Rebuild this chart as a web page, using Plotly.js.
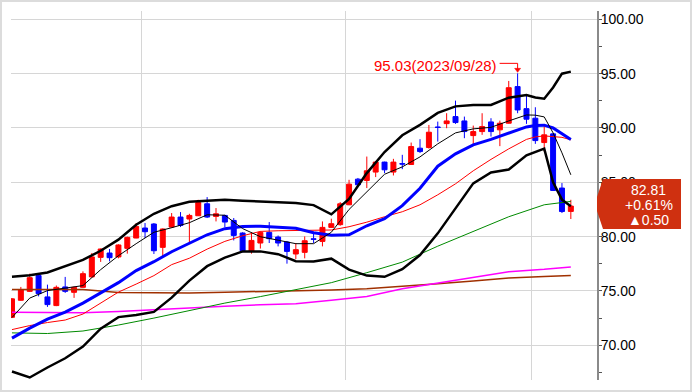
<!DOCTYPE html>
<html><head><meta charset="utf-8">
<script src="https://cdn.plot.ly/plotly-3.0.1.min.js"></script>
<style>
html,body{margin:0;padding:0;background:#fff}
#wrap{position:relative;width:692px;height:392px;overflow:hidden}
#chart{width:692px;height:392px}
#frame{position:absolute;left:0;top:0;width:692px;height:392px;border:2px solid #dcdcdc;box-sizing:border-box;pointer-events:none}
</style>
</head><body>
<div id="wrap"><div id="chart"></div><div id="frame"></div></div>
<script>
// ---- candle data (daily) ----
const open = [72.57,74.14,74.96,76.41,74.45,73.65,75.37,74.87,75.33,76.29,
78.09,78.49,78.13,78.92,79.87,80.79,81.16,79.01,80.88,81.80,
81.62,81.92,83.02,81.86,81.95,81.49,80.33,78.64,79.41,80.39,
79.96,79.50,78.40,78.55,79.80,79.56,80.85,81.10,82.93,85.29,
85.17,85.94,86.86,85.94,86.72,86.64,88.14,88.20,90.09,90.40,
91.05,90.65,89.30,89.67,90.56,89.83,90.44,93.81,91.78,90.90,
88.66,89.46,84.47,82.32];
const high = [74.35,75.37,76.59,76.45,75.58,75.50,76.29,75.40,76.80,78.49,
78.90,78.86,79.30,80.00,81.25,81.25,81.25,80.75,82.17,82.26,
82.10,83.39,83.64,82.63,82.00,81.71,80.40,80.42,80.50,81.34,
80.10,79.60,79.41,80.02,80.24,81.40,81.65,83.18,85.23,85.40,
87.37,86.95,86.90,87.16,87.53,88.66,88.97,90.28,90.59,91.36,
92.52,91.05,90.22,91.36,90.90,90.68,94.33,95.03,93.11,91.91,
90.20,89.50,84.93,83.39];
const low = [72.50,74.10,74.90,74.50,73.53,73.60,74.82,74.36,75.30,76.25,
77.67,77.72,78.00,78.43,79.85,79.87,78.40,78.18,80.79,80.88,
79.41,81.90,81.71,81.40,80.88,79.65,78.55,78.43,78.90,79.41,
79.10,77.51,77.94,78.00,79.41,79.10,80.80,81.00,82.90,84.70,
84.47,85.48,85.85,85.63,86.21,86.60,87.70,88.10,88.75,89.98,
90.38,89.06,88.51,89.37,89.21,88.33,90.40,91.36,90.38,88.54,
87.83,84.20,82.17,81.62];
const close = [74.27,75.12,76.22,74.75,73.74,75.33,74.96,75.33,76.59,78.13,
78.86,78.06,79.23,79.93,80.94,80.45,78.70,80.70,81.80,81.03,
81.95,83.14,81.80,82.10,81.34,80.11,78.70,79.65,80.39,79.81,
79.41,78.64,78.80,79.62,79.75,80.85,81.19,83.02,84.83,84.77,
86.06,86.86,86.15,86.86,86.68,88.29,87.83,89.61,90.05,90.65,
90.50,89.67,89.67,90.13,89.67,90.44,93.71,91.66,90.81,88.84,
89.37,84.25,82.31,82.81];
const peakDate = '2023/09/28';

// ---- indicator lines, read at these candle positions ----
const lineIdx = [0,2,4,6,8,10,12,14,16,18,20,22,24,26,28,30,32,34,36,38,40,42,44,46,48,50,52,54,56,58,59,60,61,62,63];
const bbUpper = [76.31,76.45,76.70,77.25,77.85,78.70,79.72,81.10,82.10,82.80,83.20,83.30,83.39,83.30,83.24,83.18,83.10,82.90,82.05,83.46,85.85,87.79,89.33,90.29,91.39,91.99,92.12,92.12,92.79,93.04,92.80,92.70,93.73,95.00,95.19];
const bbLower = [67.58,67.03,67.95,68.80,69.88,71.53,72.59,72.79,73.07,74.38,75.95,77.28,78.06,78.64,78.64,78.38,77.74,77.72,77.97,76.96,76.41,76.30,77.00,78.30,80.30,82.60,84.90,85.91,86.17,87.49,87.80,88.10,85.00,83.40,82.80];
const ma20 = [70.66,71.58,72.41,73.05,73.88,74.84,75.76,76.87,77.69,78.61,79.39,80.17,80.73,80.94,80.96,80.86,80.77,80.36,80.13,80.17,81.00,81.65,82.85,84.45,86.48,87.62,88.45,88.95,89.50,90.10,90.22,90.26,90.00,89.46,88.95];
const maRed = [71.44,71.81,72.09,72.32,72.87,73.88,74.89,75.63,76.41,77.42,78.01,78.85,79.56,80.08,80.48,80.54,80.57,80.59,80.61,80.91,81.33,81.83,82.29,82.93,83.85,84.86,86.06,87.11,88.08,88.95,89.18,89.27,89.23,89.14,88.91];
const ma5 = [72.55,74.34,75.03,75.26,75.49,76.96,78.24,79.35,80.40,80.82,81.28,82.01,81.97,80.74,79.99,79.67,79.35,79.35,80.40,82.50,84.10,85.74,86.42,87.34,88.54,89.55,89.92,90.06,90.65,91.20,91.18,91.02,89.55,87.71,85.69];
const slowIdx = [0,4,8,12,16,20,24,28,32,36,40,44,48,52,56,60,63];
const ma60 = [71.14,71.08,71.31,71.86,72.50,73.19,73.88,74.48,75.12,75.76,76.68,77.65,79.12,80.45,81.83,82.93,83.24];
const ma120 = [73.03,73.00,73.00,73.10,73.28,73.47,73.60,73.72,73.83,74.15,74.48,75.21,75.72,76.26,76.77,76.99,77.21];
const ma240 = [75.12,75.12,75.12,74.86,74.83,74.80,74.88,74.93,74.98,75.08,75.21,75.42,75.67,75.92,76.18,76.33,76.43];

// month boundaries (vertical grid) in candle-index units
const monthBreaks = [14.65, 37.55, 58.6];

const idx = open.map((_, i) => i);
function line(x, y, color, width) {
  return {type:'scatter', mode:'lines', x:x, y:y, line:{color:color, width:width}, hoverinfo:'skip', showlegend:false};
}
const traces = [
  {type:'candlestick', x:idx, open:open, high:high, low:low, close:close,
   increasing:{line:{color:'#ff0000', width:1}, fillcolor:'#ff0000'},
   decreasing:{line:{color:'#0000ff', width:1}, fillcolor:'#0000ff'},
   whiskerwidth:0, hoverinfo:'skip', showlegend:false},
  line(slowIdx, ma240, '#a03000', 1.5),
  line(slowIdx, ma120, '#ff00ff', 1.5),
  line(slowIdx, ma60, '#008a00', 1),
  line(lineIdx, maRed, '#ff0000', 1),
  line(lineIdx, ma20, '#0000ff', 3),
  line(lineIdx, bbUpper, '#000000', 2.5),
  line(lineIdx, bbLower, '#000000', 2.5),
  line(lineIdx, ma5, '#000000', 1)
];

// geometry helpers for the price tag (outside plot)
const M = {l:11, r:95, t:11, b:12};
const W = 692, H = 392;
const plotW = W - M.l - M.r;
const yRange = [66.8, 100.77];
const pxPerUnit = (H - M.t - M.b) / (yRange[1] - yRange[0]);
const px = p => (p - M.l) / plotW;

const n = close.length;
const lastClose = close[n-1], prevClose = close[n-2];
const chg = lastClose - prevClose;
const pct = chg / prevClose * 100;
const cy = lastClose + 0.19;
const hh = 25 / pxPerUnit, th = 7 / pxPerUnit;
const tagPath = `M ${px(603)},${cy+hh} L ${px(681)},${cy+hh} L ${px(681)},${cy-hh} L ${px(603)},${cy-hh} L ${px(597)},${cy-th} L ${px(597)},${cy+th} Z`;

let peakI = 0;
high.forEach((v, i) => { if (v > high[peakI]) peakI = i; });
const peakHigh = high[peakI];

const tagFont = {family:'Liberation Sans, Arial, sans-serif', size:14, color:'#ffffff'};
const layout = {
  width:W, height:H, margin:{l:M.l, r:M.r, t:M.t, b:M.b, pad:0},
  paper_bgcolor:'#ffffff', plot_bgcolor:'#ffffff', showlegend:false, boxgap:0.2,
  font:{family:'Liberation Sans, Arial, sans-serif', size:14, color:'#000'},
  xaxis:{range:[-0.11, 65.95], tickmode:'array', tickvals:monthBreaks, showticklabels:false, ticks:'',
         showgrid:true, gridcolor:'#d6d6d6', gridwidth:1, zeroline:false, showline:false,
         rangeslider:{visible:false}, fixedrange:true},
  yaxis:{side:'right', range:yRange, tick0:0, dtick:5, tickformat:'.2f', showgrid:true, gridcolor:'#d6d6d6',
         zeroline:false, showline:true, linecolor:'#8a8a8a', linewidth:2, ticks:'outside', ticklen:3,
         tickwidth:1, tickcolor:'#555', tickfont:{size:14, color:'#000'}, ticklabelstandoff:-4,
         minor:{dtick:2.5, tick0:0, ticks:'outside', ticklen:3, tickcolor:'#555', tickwidth:1, showgrid:false},
         fixedrange:true},
  shapes:[
    {type:'path', xref:'paper', yref:'y', path:tagPath, fillcolor:'#cf3010', line:{width:0}, layer:'above'},
    {type:'line', xref:'x', yref:'y', xsizemode:'pixel', xanchor:peakI, x0:-18, x1:0,
     ysizemode:'pixel', yanchor:peakHigh, y0:10, y1:10, line:{color:'#ff0000', width:1}},
    {type:'line', xref:'x', yref:'y', xsizemode:'pixel', xanchor:peakI, x0:0, x1:0,
     ysizemode:'pixel', yanchor:peakHigh, y0:10, y1:4, line:{color:'#ff0000', width:1}},
    {type:'path', xref:'x', yref:'y', xsizemode:'pixel', xanchor:peakI, ysizemode:'pixel', yanchor:peakHigh,
     path:'M -3,5 L 3,5 L 0,1 Z', fillcolor:'#ff0000', line:{color:'#ff0000', width:0.5}}
  ],
  annotations:[
    {xref:'x', yref:'y', x:peakI, y:peakHigh, xanchor:'right', yanchor:'middle', xshift:-19, yshift:8,
     showarrow:false, text:`${peakHigh.toFixed(2)}(${peakDate})`,
     font:{family:'Liberation Sans, Arial, sans-serif', size:15, color:'#ff0000'}},
    {xref:'paper', yref:'y', x:px(648), y:cy, yshift:14, xanchor:'center', yanchor:'middle', showarrow:false,
     text:lastClose.toFixed(2), font:tagFont},
    {xref:'paper', yref:'y', x:px(649), y:cy, yshift:-1, xanchor:'center', yanchor:'middle', showarrow:false,
     text:(pct >= 0 ? '+' : '') + pct.toFixed(2) + '%', font:tagFont},
    {xref:'paper', yref:'y', x:px(648), y:cy, yshift:-16, xanchor:'center', yanchor:'middle', showarrow:false,
     text:(chg >= 0 ? '▲' : '▼') + Math.abs(chg).toFixed(2), font:tagFont}
  ]
};
Plotly.newPlot('chart', traces, layout, {displayModeBar:false, staticPlot:true});
</script>
</body></html>
